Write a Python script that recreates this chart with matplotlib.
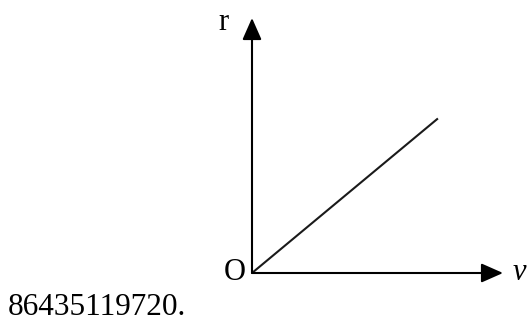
import matplotlib
matplotlib.use("Agg")
import matplotlib.pyplot as plt

# r grows linearly with v through the origin
v_vals = [0.0, 1.0]
r_vals = [0.0, 1.0]
v_max, r_max = 1.35, 1.65   # axis extents (arrow tips)
caption = "86435119720."

W, H = 530, 323
ox, oy = 252, 273        # origin in pixels (from top-left)
x_tip, y_tip = 503, 18

plt.rcParams['font.family'] = ['Liberation Serif', 'DejaVu Serif']

fig = plt.figure(figsize=(W / 100, H / 100), dpi=100)
ax = fig.add_axes([ox / W, (H - oy) / H, (x_tip - ox) / W, (oy - y_tip) / H])
ax.set_xlim(0, v_max)
ax.set_ylim(0, r_max)
ax.axis('off')

arrow = dict(arrowstyle='-|>,head_length=0.95,head_width=0.42', lw=1.5,
             color='black', mutation_scale=14, shrinkA=0, shrinkB=0)
ax.annotate('', xy=(v_max, 0), xytext=(0, 0), arrowprops=arrow, annotation_clip=False)
ax.annotate('', xy=(0, r_max), xytext=(0, 0), arrowprops=arrow, annotation_clip=False)

ax.plot(v_vals, r_vals, color='#1a1a1a', lw=1.5, solid_capstyle='butt', clip_on=False)

fs = 22
fig.text(234.5 / W, 1 - 272.5 / H, 'O', ha='center', va='center', fontsize=fs)
fig.text(223 / W, 1 - 30 / H, 'r', ha='center', va='baseline', fontsize=fs)
fig.text(519 / W, 1 - 280 / H, 'v', ha='center', va='baseline', fontsize=fs, style='italic')
fig.text(8 / W, 1 - 315 / H, caption, ha='left', va='baseline', fontsize=22.5)

fig.savefig('out.png', dpi=100, facecolor='white')
